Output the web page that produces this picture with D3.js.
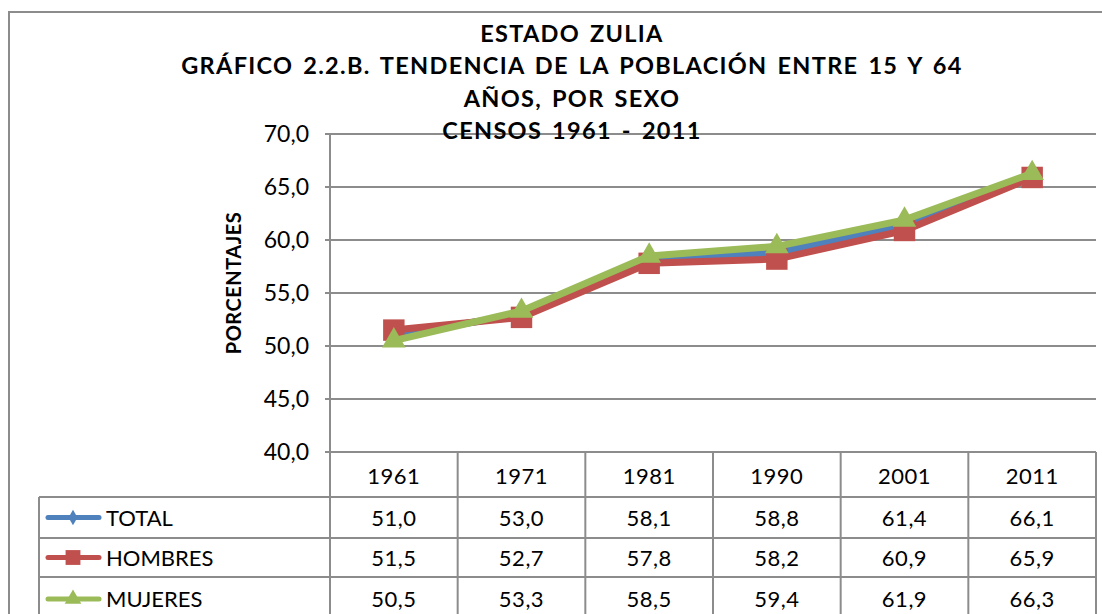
<!DOCTYPE html>
<meta charset="utf-8">
<script src="https://d3js.org/d3.v7.min.js"></script>
<style>
body { margin: 0; background: #fff; }
text { font-family: Lato, "Open Sans", sans-serif; }
</style>
<div id="chart"></div>
<script>
// data
var years = ["1961", "1971", "1981", "1990", "2001", "2011"];
var total = [51.0, 53.0, 58.1, 58.8, 61.4, 66.1];
var hombres = [51.5, 52.7, 57.8, 58.2, 60.9, 65.9];
var mujeres = [50.5, 53.3, 58.5, 59.4, 61.9, 66.3];
var yTicks = [40, 45, 50, 55, 60, 65, 70];
var titleLines = ["ESTADO ZULIA", "GRÁFICO 2.2.B. TENDENCIA DE LA POBLACIÓN ENTRE 15 Y 64", "AÑOS, POR SEXO", "CENSOS 1961 - 2011"];

var series = [
  {name: "TOTAL", values: total, color: "#4F81BD", marker: "diamond"},
  {name: "HOMBRES", values: hombres, color: "#C0504D", marker: "square"},
  {name: "MUJERES", values: mujeres, color: "#9BBB59", marker: "triangle"}
];

var W = 1102, H = 614;
var svg = d3.select("#chart").append("svg").attr("width", W).attr("height", H);

// outer frame
svg.append("rect").attr("x", 9).attr("y", 12).attr("width", 1110).attr("height", 640)
  .attr("fill", "none").attr("stroke", "#8c8c8c").attr("stroke-width", 2);

var pLeft = 330, pRight = 1096, pTop = 134, pBottom = 452;
var x = d3.scaleBand().domain(years).range([pLeft, pRight]);
var y = d3.scaleLinear().domain([40, 70]).range([pBottom, pTop]);
var fmt = d => d3.format(".1f")(d).replace(".", ",");

// gridlines
svg.selectAll(".grid").data(yTicks).enter().append("line")
  .attr("x1", pLeft - 5).attr("x2", pRight)
  .attr("y1", d => y(d)).attr("y2", d => y(d))
  .attr("stroke", "#8c8c8c").attr("stroke-width", 2);

// y labels
svg.selectAll(".ylab").data(yTicks).enter().append("text")
  .attr("x", 309).attr("y", d => y(d) + 8)
  .attr("text-anchor", "end").style("font-size", "23px")
  .text(fmt);

svg.append("text")
  .attr("transform", "translate(241," + 283 + ") rotate(-90)")
  .attr("text-anchor", "middle").style("font-size", "20px").style("font-weight", "bold")
  .style("letter-spacing", "0.5px")
  .text("PORCENTAJES");

// title
svg.selectAll(".title").data(titleLines).enter().append("text")
  .attr("x", 572).attr("y", (d, i) => 42 + i * 32.4)
  .attr("text-anchor", "middle").style("font-size", "23.5px").style("font-weight", "bold")
  .style("letter-spacing", "1.3px").style("word-spacing", "3px")
  .text(d => d);

// data table
var rowY = [452, 497, 538, 577, 616];
var tg = svg.append("g").attr("stroke", "#8c8c8c").attr("stroke-width", 2);
tg.append("line").attr("x1", pLeft).attr("x2", pLeft).attr("y1", pTop).attr("y2", H);
years.forEach(function(yr) {
  var xe = x(yr) + x.bandwidth();
  tg.append("line").attr("x1", xe).attr("x2", xe).attr("y1", pBottom).attr("y2", H);
});
tg.append("line").attr("x1", 39).attr("x2", 39).attr("y1", rowY[1]).attr("y2", H);
[1, 2, 3].forEach(function(r) {
  tg.append("line").attr("x1", 39).attr("x2", pRight).attr("y1", rowY[r]).attr("y2", rowY[r]);
});

svg.selectAll(".yr").data(years).enter().append("text")
  .attr("x", d => x(d) + x.bandwidth() / 2).attr("y", 484)
  .attr("text-anchor", "middle").style("font-size", "22px").style("letter-spacing", "0.5px").text(d => d);

var sym = {
  diamond: d3.symbol().type(d3.symbolDiamond).size(120),
  square: d3.symbol().type(d3.symbolSquare).size(460),
  triangle: d3.symbol().type(d3.symbolTriangle).size(240)
};
var legSym = {
  diamond: d3.symbol().type(d3.symbolDiamond).size(70),
  square: d3.symbol().type(d3.symbolSquare).size(220),
  triangle: d3.symbol().type(d3.symbolTriangle).size(120)
};

series.forEach(function(s, r) {
  var cy = (rowY[r + 1] + rowY[r + 2]) / 2;
  if (r === 2) cy = 599;
  svg.append("line").attr("x1", 48).attr("x2", 99).attr("y1", cy).attr("y2", cy)
    .attr("stroke", s.color).attr("stroke-width", 5).attr("stroke-linecap", "round");
  svg.append("path").attr("d", legSym[s.marker]()).attr("fill", s.color)
    .attr("transform", "translate(73," + cy + ")");
  svg.append("text").attr("x", 106).attr("y", cy + 8).style("font-size", "22px").text(s.name);
  svg.selectAll(".v" + r).data(s.values).enter().append("text")
    .attr("x", (d, i) => x(years[i]) + x.bandwidth() / 2).attr("y", cy + 8)
    .attr("text-anchor", "middle").style("font-size", "22px").style("letter-spacing", "0.5px")
    .text(fmt);
});

// lines
var line = d3.line().x((d, i) => x(years[i]) + x.bandwidth() / 2).y(d => y(d));
series.forEach(function(s) {
  svg.append("path").datum(s.values).attr("d", line)
    .attr("fill", "none").attr("stroke", s.color).attr("stroke-width", 7).attr("stroke-linejoin", "round");
  svg.selectAll(".m" + s.marker).data(s.values).enter().append("path")
    .attr("d", sym[s.marker]()).attr("fill", s.color)
    .attr("transform", (d, i) => "translate(" + (x(years[i]) + x.bandwidth() / 2) + "," + y(d) + ")");
});
</script>
